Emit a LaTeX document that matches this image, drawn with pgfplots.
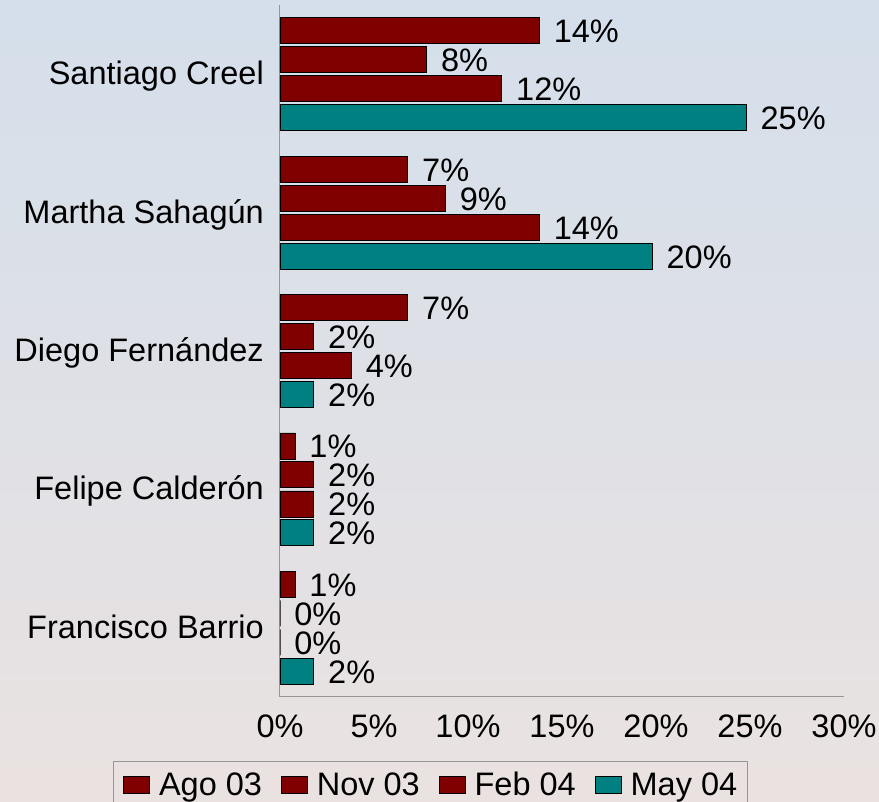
\documentclass[border=0pt]{standalone}
\usepackage{pgfplots}
\pgfplotsset{compat=1.18}
\usepackage{fontspec}
\setmainfont{Liberation Sans}
\definecolor{barred}{RGB}{128,0,0}
\definecolor{barteal}{RGB}{0,128,128}
\definecolor{bgtop}{RGB}{212,223,235}
\definecolor{bgbot}{RGB}{234,226,225}
\definecolor{axgray}{RGB}{150,150,150}
\newcommand{\bigf}{\fontsize{32.5}{38}\selectfont}
\begin{document}
\begin{tikzpicture}
\shade[top color=bgtop, bottom color=bgbot] (0pt,0pt) rectangle (879pt,802pt);
\begin{axis}[
  at={(280pt,105pt)}, anchor=south west,
  scale only axis, width=564pt, height=692pt,
  xbar, bar width=0.188,
  xmin=0, xmax=30, ymin=-0.5, ymax=4.5,
  axis x line=bottom, axis y line=left,
  axis line style={draw=axgray, line width=1pt, -},
  xtick={0,5,10,15,20,25,30},
  xticklabels={0\%,5\%,10\%,15\%,20\%,25\%,30\%},
  ytick={0,1,2,3,4},
  yticklabels={Francisco Barrio,Felipe Calderón,Diego Fernández,Martha Sahagún,Santiago Creel},
  major tick length=0pt,
  tick label style={font=\bigf},
  xticklabel style={inner sep=0pt, anchor=north, yshift=-18pt},
  yticklabel style={inner sep=0pt, anchor=base east, xshift=-16pt, yshift=-10.5pt},
  nodes near coords={\pgfmathprintnumber[fixed,precision=0,assume math mode=true]{\pgfplotspointmeta}\%},
  nodes near coords style={font=\bigf, text=black, inner sep=0pt, anchor=base west, xshift=14pt, yshift=-12pt},
  legend style={at={(axis description cs:-0.296,-0.0925)}, anchor=north west,
    draw=axgray, fill=none, font=\bigf, inner xsep=10pt, inner ysep=8pt, overlay,
    nodes={inner sep=0pt},
    /tikz/every odd column/.append style={column sep=9pt},
    /tikz/every even column/.append style={column sep=19pt}},
  legend columns=-1,
  clip=false,
]
\addplot[fill=barred, draw=black, line width=0.8pt, bar shift=0.314,
  legend image code/.code={\draw[fill=barred, draw=black, line width=0.8pt] (0pt,-8.5pt) rectangle (26pt,8.5pt); \path (0pt,15pt);}]
  coordinates {(0.8,0) (0.8,1) (6.8,2) (6.8,3) (13.8,4)};
\addlegendentry{Ago 03}
\addplot[fill=barred, draw=black, line width=0.8pt, bar shift=0.105,
  legend image code/.code={\draw[fill=barred, draw=black, line width=0.8pt] (0pt,-8.5pt) rectangle (26pt,8.5pt); \path (0pt,15pt);}]
  coordinates {(0,0) (1.8,1) (1.8,2) (8.8,3) (7.8,4)};
\addlegendentry{Nov 03}
\addplot[fill=barred, draw=black, line width=0.8pt, bar shift=-0.105,
  legend image code/.code={\draw[fill=barred, draw=black, line width=0.8pt] (0pt,-8.5pt) rectangle (26pt,8.5pt); \path (0pt,15pt);}]
  coordinates {(0,0) (1.8,1) (3.8,2) (13.8,3) (11.8,4)};
\addlegendentry{Feb 04}
\addplot[fill=barteal, draw=black, line width=0.8pt, bar shift=-0.314,
  legend image code/.code={\draw[fill=barteal, draw=black, line width=0.8pt] (0pt,-8.5pt) rectangle (26pt,8.5pt); \path (0pt,15pt);}]
  coordinates {(1.8,0) (1.8,1) (1.8,2) (19.8,3) (24.8,4)};
\addlegendentry{May 04}
\end{axis}
\end{tikzpicture}
\end{document}
